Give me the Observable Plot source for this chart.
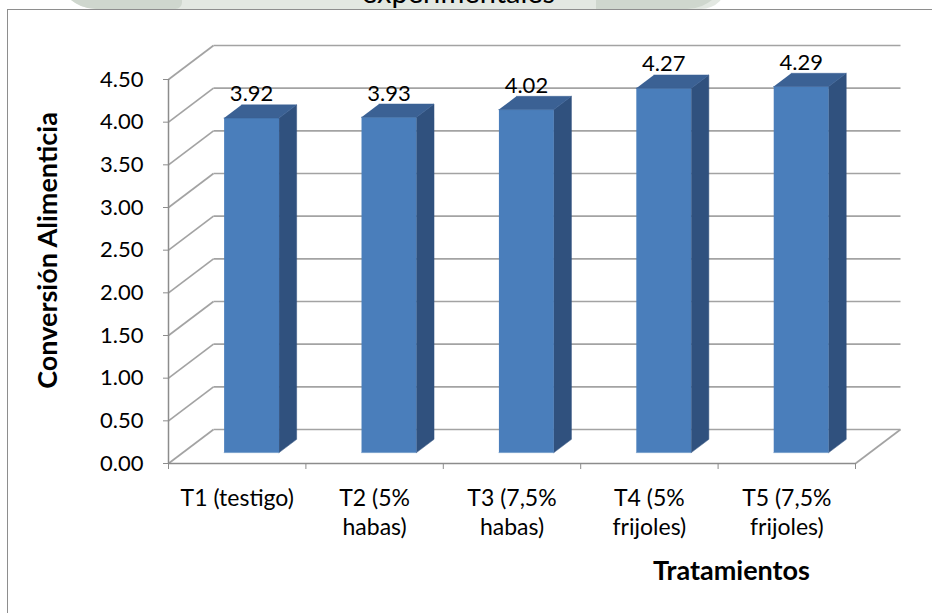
<!DOCTYPE html>
<html>
<head>
<meta charset="utf-8">
<script src="https://cdn.jsdelivr.net/npm/d3@7"></script>
<script src="https://cdn.jsdelivr.net/npm/@observablehq/plot@0.6"></script>
<style>
  body { margin: 0; background: #fff; }
  #wrap { position: relative; width: 932px; height: 613px; overflow: hidden; font-family: Lato, sans-serif; }
  #wm1 { position: absolute; left: 57px; top: -30px; width: 670px; height: 39px; background: #e3e8e2; border-radius: 0 0 40px 60px; }
  #wm2 { position: absolute; left: 57px; top: -30px; width: 125px; height: 39px; background: #cfd7ce; border-radius: 0 0 10px 60px; }
  #wm3 { position: absolute; left: 596px; top: -30px; width: 130px; height: 39px; background: #cfd7ce; border-radius: 0 0 40px 0; }
  #border { position: absolute; left: 7px; top: 9px; width: 960px; height: 640px;
            border-left: 1.5px solid #8e8e8e; border-top: 1.5px solid #8e8e8e; background: #fff; }
  #chart { position: absolute; left: 0; top: 0; }
</style>
</head>
<body>
<div id="wrap">
  <div id="wm1"></div>
  <div id="wm2"></div>
  <div id="wm3"></div>
  <div id="border"></div>
  <div id="chart"></div>
</div>
<script>
// ---- data ----
const categories = ["T1 (testigo)", "T2 (5%\nhabas)", "T3 (7,5%\nhabas)", "T4 (5%\nfrijoles)", "T5 (7,5%\nfrijoles)"];
const values = [3.92, 3.93, 4.02, 4.27, 4.29];
const yTicks = [0, 0.5, 1, 1.5, 2, 2.5, 3, 3.5, 4, 4.5];
const yTickLabels = ["0.00", "0.50", "1.00", "1.50", "2.00", "2.50", "3.00", "3.50", "4.00", "4.50"];
const xBoundaries = [0, 1, 2, 3, 4, 5];
const title = "experimentales";
const yTitle = "Conversión Alimenticia";
const xTitle = "Tratamientos";

// ---- oblique 3D projection (depth d in [0,1]) ----
const KX = 0.3275, KY = 0.3984;   // shift per unit depth, in x-category and y-value units
const D0 = 0.32, D1 = 0.71, HALF = 0.2;
const P = (x, y, d) => ({x: x + d * KX, y: y + d * KY});

const gridLines = [
  ...yTicks.map(t => ({a: P(0, t, 1), b: P(5, t, 1)})),
  ...yTicks.map(t => ({a: P(0, t, 0), b: P(0, t, 1)})),
  {a: P(5, 0, 0), b: P(5, 0, 1)}
];

const fronts = [], sides = [], tops = [];
values.forEach((v, i) => {
  const xl = i + 0.5 - HALF, xr = i + 0.5 + HALF;
  [P(xl, 0, D0), P(xr, 0, D0), P(xr, v, D0), P(xl, v, D0)].forEach(p => fronts.push({...p, id: i}));
  [P(xr, 0, D0), P(xr, 0, D1), P(xr, v, D1), P(xr, v, D0)].forEach(p => sides.push({...p, id: i}));
  [P(xl, v, D0), P(xr, v, D0), P(xr, v, D1), P(xl, v, D1)].forEach(p => tops.push({...p, id: i}));
});

const gridColor = "#a3a3a3", axisColor = "#8c8c8c";
const frontColor = "#4a7ebb", sideColor = "#30517e", topColor = "#3b6194";

const chart = Plot.plot({
  width: 932,
  height: 613,
  marginLeft: 168,
  marginRight: 77,
  marginTop: 79,
  marginBottom: 150,
  x: {domain: [0, 5]},
  y: {domain: [0, 4.5]},
  style: {fontFamily: "Lato, sans-serif", fontSize: "22px", color: "black", background: "transparent", overflow: "visible"},
  marks: [
    Plot.link(gridLines, {x1: d => d.a.x, y1: d => d.a.y, x2: d => d.b.x, y2: d => d.b.y, stroke: gridColor, strokeWidth: 1.7}),
    Plot.ruleX([0], {stroke: axisColor, strokeWidth: 1.5}),
    Plot.ruleY([0], {stroke: axisColor, strokeWidth: 1.5}),
    Plot.axisY({ticks: yTicks, tickFormat: d => yTickLabels[yTicks.indexOf(d)], tickSize: 5, tickPadding: 20, stroke: axisColor, fill: "black", label: null}),
    Plot.axisX({ticks: xBoundaries, tickFormat: () => "", tickSize: 6, stroke: axisColor, label: null}),
    Plot.line(fronts, {x: "x", y: "y", z: "id", fill: frontColor, stroke: frontColor, strokeWidth: 0.5}),
    Plot.line(sides, {x: "x", y: "y", z: "id", fill: sideColor, stroke: sideColor, strokeWidth: 0.5}),
    Plot.line(tops, {x: "x", y: "y", z: "id", fill: topColor, stroke: topColor, strokeWidth: 0.5}),
    Plot.text(values, {x: (d, i) => i + 0.5 + D0 * KX, y: d => d + D1 * KY, text: d => d.toFixed(2), dy: -3.5, lineAnchor: "bottom", fill: "black"}),
    Plot.text(categories, {x: (d, i) => i + 0.5, frameAnchor: "bottom", dy: 21.5, lineAnchor: "top", textAnchor: "middle", lineHeight: 1.27, fontSize: 23, fill: "black"}),
    Plot.text([yTitle], {frameAnchor: "left", dx: -120, dy: -21, rotate: -90, textAnchor: "middle", lineAnchor: "middle", fontWeight: "bold", fontSize: 27, fill: "black"}),
    Plot.text([xTitle], {frameAnchor: "bottom", dx: 219.5, dy: 108, textAnchor: "middle", lineAnchor: "middle", fontWeight: "bold", fontSize: 27, fill: "black"}),
    Plot.text([title], {frameAnchor: "top", dx: -53.5, dy: -76.5, textAnchor: "middle", lineAnchor: "bottom", fontSize: 29, fill: "black"})
  ]
});
document.getElementById("chart").appendChild(chart);
</script>
</body>
</html>
